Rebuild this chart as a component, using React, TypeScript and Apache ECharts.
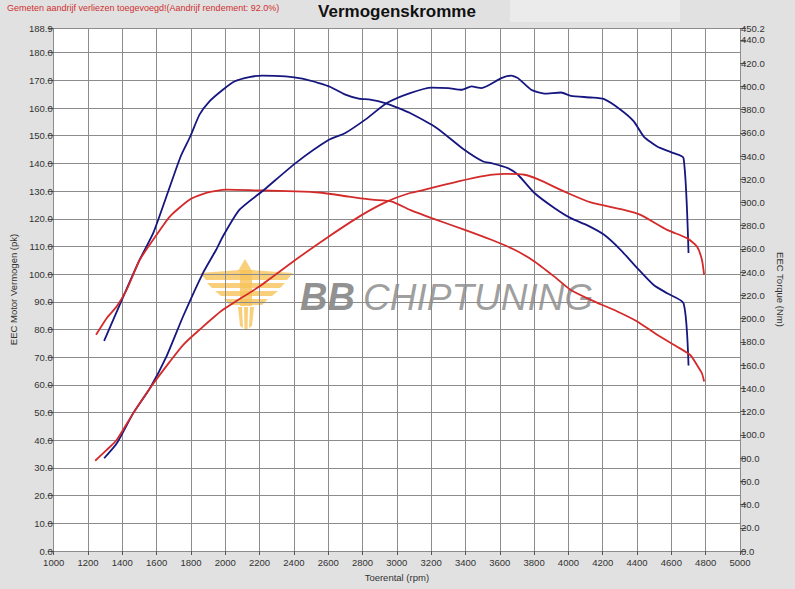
import React, { useEffect, useRef } from "react";
import * as echarts from "echarts";

// ---- Data ----
const X_TICKS_MIN = 1000;
const X_TICKS_MAX = 5000;
const POWER_MAX = 188.9;
const TORQUE_MAX = 450.2;

// Tuned power (pk)
const TUNED_POWER_RPM = [1294, 1367, 1464, 1561, 1657, 1754, 1870, 1947, 1986, 2082, 2227, 2410, 2604, 2700, 2816, 2942, 3077, 3203, 3300, 3377, 3435, 3493, 3609, 3667, 3706, 3783, 3860, 3957, 4014, 4130, 4208, 4304, 4381, 4439, 4517, 4613, 4671, 4700];
const TUNED_POWER = [33.5, 38.8, 49.8, 58.8, 70.2, 84.7, 100.4, 108.8, 113.6, 123.2, 130.5, 140.1, 148.5, 151.0, 155.8, 161.8, 165.4, 167.4, 167.2, 166.6, 167.8, 167.2, 170.8, 171.7, 170.8, 166.6, 165.2, 165.6, 164.4, 163.8, 163.2, 159.4, 155.2, 149.7, 146.1, 143.7, 141.9, 107.6];

// Stock power (pk)
const STOCK_POWER_RPM = [1242, 1309, 1367, 1464, 1561, 1677, 1754, 1850, 1986, 2198, 2410, 2604, 2797, 2942, 3077, 3164, 3358, 3512, 3628, 3744, 3821, 3995, 4130, 4323, 4420, 4575, 4691, 4749, 4778, 4791];
const STOCK_POWER = [32.6, 36.5, 40.1, 49.8, 58.8, 68.4, 74.4, 79.9, 87.1, 95.5, 105.2, 113.6, 121.4, 126.2, 129.3, 130.5, 133.5, 135.5, 136.2, 135.9, 134.3, 129.3, 125.9, 123.2, 121.4, 116.0, 113.0, 110.0, 105.2, 99.7];

// Tuned torque (Nm)
const TUNED_TORQUE_RPM = [1294, 1493, 1580, 1657, 1740, 1796, 1850, 1908, 1986, 2053, 2140, 2217, 2352, 2449, 2546, 2613, 2700, 2778, 2845, 2932, 3010, 3077, 3232, 3387, 3503, 3551, 3647, 3706, 3802, 3918, 4014, 4111, 4208, 4304, 4401, 4497, 4575, 4671, 4700];
const TUNED_TORQUE = [180.9, 248.3, 273.6, 305.1, 339.6, 356.8, 375.6, 387.1, 397.1, 404.2, 408.0, 409.2, 408.5, 406.6, 402.8, 399.4, 392.8, 389.4, 388.5, 385.6, 381.3, 377.0, 364.2, 346.1, 335.3, 333.9, 329.6, 323.9, 308.2, 295.3, 286.5, 280.3, 272.2, 259.3, 243.6, 229.0, 221.9, 213.3, 159.7];

// Stock torque (Nm)
const STOCK_TORQUE_RPM = [1247, 1309, 1367, 1425, 1502, 1580, 1677, 1792, 1889, 2005, 2217, 2410, 2546, 2720, 2855, 2971, 3077, 3203, 3396, 3551, 3686, 3802, 3918, 4014, 4130, 4285, 4401, 4517, 4633, 4710, 4749, 4778, 4791];
const STOCK_TORQUE = [186.1, 200.4, 210.4, 224.7, 250.7, 267.9, 287.9, 302.4, 308.2, 311.0, 310.3, 309.6, 308.6, 305.1, 302.4, 300.8, 293.6, 286.5, 276.5, 267.9, 259.3, 249.3, 236.2, 224.7, 216.2, 206.2, 197.6, 186.1, 175.9, 168.7, 160.2, 153.0, 145.9];

const pairs = (xs: number[], ys: number[]) => xs.map((x, i) => [x, ys[i]]);

const BLUE = "#161680";
const RED = "#d42a2a";
const FONT = "Liberation Sans, Arial, sans-serif";
const LABEL_COLOR = "#333";

export default function App() {
  const ref = useRef<HTMLDivElement>(null);

  useEffect(() => {
    if (!ref.current) return;
    const chart = echarts.init(ref.current, null, { renderer: "svg" });
    const gold = "#f7c35a";
    const lineSeries = (name: string, axis: number, data: number[][], color: string) => ({
      name,
      type: "line",
      yAxisIndex: axis,
      data,
      showSymbol: false,
      smooth: 0.2,
      z: 3,
      lineStyle: { color, width: 1.8 },
    });
    const option: any = {
      animation: false,
      backgroundColor: "#e1e1e1",
      textStyle: { fontFamily: FONT },
      grid: {
        left: 50,
        right: 55,
        top: 28,
        bottom: 38,
        show: true,
        backgroundColor: "#ffffff",
        borderWidth: 0,
      },
      graphic: [
        { type: "rect", z: -1, shape: { x: 510, y: 0, width: 170, height: 22 }, style: { fill: "#ebebeb" } },
        {
          type: "text",
          left: 7,
          top: 3,
          style: {
            text: "Gemeten aandrijf verliezen toegevoegd!(Aandrijf rendement: 92.0%)",
            fill: "#d03030",
            font: "9px " + FONT,
          },
        },
        {
          type: "text",
          x: 397,
          y: 11,
          style: {
            text: "Vermogenskromme",
            fill: "#111",
            font: "bold 17px " + FONT,
            textAlign: "center",
            textVerticalAlign: "middle",
          },
        },
        // watermark logo
        {
          type: "group",
          z: 1,
          children: [
            { type: "polygon", shape: { points: [[245, 259], [238, 271], [252, 271]] }, style: { fill: gold, opacity: 0.8 } },
            { type: "polygon", shape: { points: [[200, 273], [240, 270], [252, 270], [293, 273], [287, 280], [252, 280], [240, 280], [206, 280]] }, style: { fill: gold, opacity: 0.8 } },
            { type: "polygon", shape: { points: [[207, 283], [285, 283], [280, 288], [212, 288]] }, style: { fill: gold, opacity: 0.8 } },
            { type: "polygon", shape: { points: [[215, 291], [278, 291], [272, 296], [221, 296]] }, style: { fill: gold, opacity: 0.8 } },
            { type: "polygon", shape: { points: [[224, 299], [268, 299], [262, 305], [230, 305]] }, style: { fill: gold, opacity: 0.8 } },
            { type: "rect", shape: { x: 240, y: 270, width: 12, height: 36 }, style: { fill: gold, opacity: 0.8 } },
            { type: "polygon", shape: { points: [[238, 307], [242, 307], [243, 328], [240, 326]] }, style: { fill: gold, opacity: 0.8 } },
            { type: "polygon", shape: { points: [[244, 307], [248, 307], [247.5, 330], [244.5, 330]] }, style: { fill: gold, opacity: 0.8 } },
            { type: "polygon", shape: { points: [[250, 307], [254, 307], [252, 326], [249, 328]] }, style: { fill: gold, opacity: 0.8 } },
            {
              type: "text",
              x: 300,
              y: 297,
              style: {
                text: "BB",
                fill: "#7d7d7d",
                opacity: 0.85,
                font: "italic bold 38px " + FONT,
                textVerticalAlign: "middle",
              },
            },
            {
              type: "text",
              x: 363,
              y: 297,
              style: {
                text: "CHIPTUNING",
                fill: "#8e8e8e",
                opacity: 0.85,
                font: "italic 37px " + FONT,
                textVerticalAlign: "middle",
              },
            },
          ],
        },
      ],
      xAxis: {
        type: "value",
        min: X_TICKS_MIN,
        max: X_TICKS_MAX,
        interval: 200,
        name: "Toerental (rpm)",
        nameLocation: "middle",
        nameGap: 21,
        nameTextStyle: { fontSize: 9.5, color: LABEL_COLOR, fontFamily: FONT },
        axisLine: { show: false },
        axisTick: { show: true, length: 4, lineStyle: { color: "#555" } },
        axisLabel: {
          fontSize: 9.5,
          color: LABEL_COLOR,
          margin: 6,
          fontFamily: FONT,
          formatter: (v: number) => String(v),
        },
        splitLine: { show: true, lineStyle: { color: "#8c8c8c", width: 1 } },
      },
      yAxis: [
        {
          type: "value",
          min: 0,
          max: POWER_MAX,
          interval: 10,
          position: "left",
          name: "EEC Motor Vermogen (pk)",
          nameLocation: "middle",
          nameGap: 33,
          nameTextStyle: { fontSize: 9.5, color: LABEL_COLOR, fontFamily: FONT },
          axisLine: { show: false },
          axisTick: { show: true, length: 6, lineStyle: { color: "#555" } },
          axisLabel: {
            fontSize: 9.5,
            color: LABEL_COLOR,
            margin: 1,
            fontFamily: FONT,
            showMaxLabel: true,
            showMinLabel: true,
            formatter: (v: number) => v.toFixed(1),
          },
          splitLine: { show: true, lineStyle: { color: "#8c8c8c", width: 1 } },
        },
        {
          type: "value",
          min: 0,
          max: TORQUE_MAX,
          interval: 20,
          position: "right",
          name: "EEC Torque (Nm)",
          nameLocation: "middle",
          nameGap: 31,
          nameRotate: -90,
          nameTextStyle: { fontSize: 9.5, color: LABEL_COLOR, fontFamily: FONT },
          axisLine: { show: false },
          axisTick: { show: true, length: 6, lineStyle: { color: "#555" } },
          axisLabel: {
            fontSize: 9.5,
            color: LABEL_COLOR,
            margin: 1,
            fontFamily: FONT,
            showMaxLabel: true,
            showMinLabel: true,
            formatter: (v: number) => v.toFixed(1),
          },
          splitLine: { show: false },
        },
      ],
      series: [
        lineSeries("Tuned torque", 1, pairs(TUNED_TORQUE_RPM, TUNED_TORQUE), BLUE),
        lineSeries("Stock torque", 1, pairs(STOCK_TORQUE_RPM, STOCK_TORQUE), RED),
        lineSeries("Tuned power", 0, pairs(TUNED_POWER_RPM, TUNED_POWER), BLUE),
        lineSeries("Stock power", 0, pairs(STOCK_POWER_RPM, STOCK_POWER), RED),
      ],
    };
    chart.setOption(option);
    return () => chart.dispose();
  }, []);

  return (
    <div
      ref={ref}
      style={{ position: "fixed", left: 0, top: 0, width: 795, height: 589, background: "#e1e1e1" }}
    />
  );
}
